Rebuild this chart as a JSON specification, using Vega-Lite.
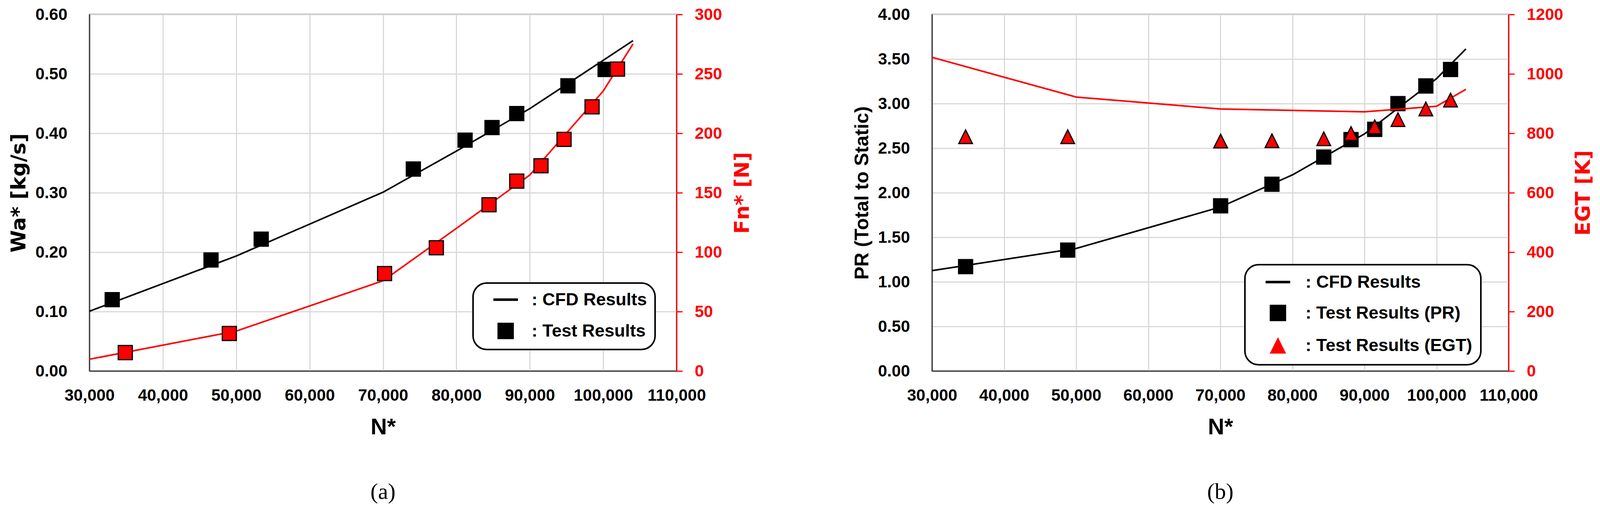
{
  "$schema": "https://vega.github.io/schema/vega-lite/v6.json",
  "background": "white",
  "padding": {"left": 20, "top": 14, "right": 5, "bottom": 5},
  "datasets": {
    "waCfd": [
      {"N": 30000, "v": 0.1006}, {"N": 50000, "v": 0.1935}, {"N": 70000, "v": 0.3009},
      {"N": 80000, "v": 0.370}, {"N": 90000, "v": 0.4415}, {"N": 100000, "v": 0.5228},
      {"N": 104070, "v": 0.556}
    ],
    "waTest": [
      {"N": 33101, "v": 0.1201, "series": "Test Results"},
      {"N": 46564, "v": 0.1869, "series": "Test Results"},
      {"N": 53404, "v": 0.2219, "series": "Test Results"},
      {"N": 74133, "v": 0.3399, "series": "Test Results"},
      {"N": 81183, "v": 0.3885, "series": "Test Results"},
      {"N": 84854, "v": 0.4097, "series": "Test Results"},
      {"N": 88223, "v": 0.4332, "series": "Test Results"},
      {"N": 95199, "v": 0.4799, "series": "Test Results"},
      {"N": 100265, "v": 0.5075, "series": "Test Results"}
    ],
    "fnCfd": [
      {"N": 30000, "v": 9.9}, {"N": 50000, "v": 33.6}, {"N": 70000, "v": 75.9},
      {"N": 80000, "v": 120}, {"N": 90000, "v": 164.9}, {"N": 100000, "v": 235.5},
      {"N": 104070, "v": 275.2}
    ],
    "fnTest": [
      {"N": 34883, "v": 15.5}, {"N": 49059, "v": 31.6}, {"N": 70213, "v": 82.0},
      {"N": 77266, "v": 103.7}, {"N": 84446, "v": 139.9}, {"N": 88223, "v": 159.8},
      {"N": 91528, "v": 172.7}, {"N": 94668, "v": 194.9}, {"N": 98488, "v": 222.3},
      {"N": 101952, "v": 254.0}
    ],
    "prCfd": [
      {"N": 30000, "v": 1.126}, {"N": 50000, "v": 1.375}, {"N": 70000, "v": 1.839},
      {"N": 80000, "v": 2.2}, {"N": 90000, "v": 2.66}, {"N": 100000, "v": 3.28},
      {"N": 104070, "v": 3.613}
    ],
    "prTest": [
      {"N": 34658, "v": 1.171, "series": "Test Results (PR)"},
      {"N": 48826, "v": 1.356, "series": "Test Results (PR)"},
      {"N": 70043, "v": 1.853, "series": "Test Results (PR)"},
      {"N": 77163, "v": 2.095, "series": "Test Results (PR)"},
      {"N": 84353, "v": 2.400, "series": "Test Results (PR)"},
      {"N": 88136, "v": 2.596, "series": "Test Results (PR)"},
      {"N": 91424, "v": 2.711, "series": "Test Results (PR)"},
      {"N": 94647, "v": 3.000, "series": "Test Results (PR)"},
      {"N": 98516, "v": 3.198, "series": "Test Results (PR)"},
      {"N": 101947, "v": 3.383, "series": "Test Results (PR)"}
    ],
    "egtCfd": [
      {"N": 30000, "v": 1055.7}, {"N": 50000, "v": 922}, {"N": 70000, "v": 882},
      {"N": 90000, "v": 872.4}, {"N": 100000, "v": 891}, {"N": 104070, "v": 948}
    ],
    "egtTest": [
      {"N": 34658, "v": 788.6, "series": "Test Results (EGT)"},
      {"N": 48826, "v": 788.6, "series": "Test Results (EGT)"},
      {"N": 70043, "v": 774, "series": "Test Results (EGT)"},
      {"N": 77163, "v": 775, "series": "Test Results (EGT)"},
      {"N": 84353, "v": 781.6, "series": "Test Results (EGT)"},
      {"N": 88136, "v": 799.3, "series": "Test Results (EGT)"},
      {"N": 91424, "v": 822, "series": "Test Results (EGT)"},
      {"N": 94647, "v": 846, "series": "Test Results (EGT)"},
      {"N": 98516, "v": 882, "series": "Test Results (EGT)"},
      {"N": 101947, "v": 912, "series": "Test Results (EGT)"}
    ]
  },
  "hconcat": [
    {
      "width": 1503,
      "height": 912,
      "title": {"text": "(a)", "orient": "bottom", "offset": 108},
      "encoding": {
        "x": {
          "field": "N", "type": "quantitative",
          "scale": {"domain": [30000, 110000], "nice": false, "zero": false},
          "axis": {"title": "N*", "format": ",d", "values": [30000, 40000, 50000, 60000, 70000, 80000, 90000, 100000, 110000]}
        }
      },
      "layer": [
        {
          "encoding": {
            "y": {
              "field": "v", "type": "quantitative",
              "scale": {"domain": [0, 0.6], "nice": false, "zero": false},
              "axis": {"orient": "left", "title": "Wa* [kg/s]", "format": ".2f", "values": [0, 0.1, 0.2, 0.3, 0.4, 0.5, 0.6], "grid": true}
            }
          },
          "layer": [
            {
              "data": {"name": "waCfd"},
              "mark": {"type": "line", "color": "black", "strokeWidth": 4},
              "encoding": {}
            },
            {
              "data": {"name": "waTest"},
              "mark": {"type": "point", "filled": true, "opacity": 1, "stroke": "black", "strokeWidth": 3, "size": 1300},
              "encoding": {
                "shape": {
                  "field": "series", "type": "nominal",
                  "scale": {"domain": ["CFD Results", "Test Results"], "range": ["M-1.5,-0.15H1.5V0.15H-1.5Z", "square"]},
                  "legend": {"title": null, "orient": "none", "legendX": 982, "legendY": 687, "labelExpr": "': ' + datum.label", "padding": 20, "rowPadding": 29, "symbolOffset": 41, "labelOffset": 44, "cornerRadius": 35}
                },
                "fill": {
                  "field": "series", "type": "nominal",
                  "scale": {"domain": ["CFD Results", "Test Results"], "range": ["black", "black"]},
                  "legend": {"title": null, "orient": "none", "legendX": 982, "legendY": 687, "labelExpr": "': ' + datum.label", "padding": 20, "rowPadding": 29, "symbolOffset": 41, "labelOffset": 44, "cornerRadius": 35}
                }
              }
            }
          ]
        },
        {
          "encoding": {
            "y": {
              "field": "v", "type": "quantitative",
              "scale": {"domain": [0, 300], "nice": false, "zero": false},
              "axis": {"orient": "right", "title": "Fn* [N]", "format": "d", "values": [0, 50, 100, 150, 200, 250, 300], "grid": false}
            }
          },
          "layer": [
            {
              "data": {"name": "fnCfd"},
              "mark": {"type": "line", "color": "#ff0000", "strokeWidth": 4},
              "encoding": {}
            },
            {
              "data": {"name": "fnTest"},
              "mark": {"type": "point", "shape": "square", "filled": true, "opacity": 1, "fill": "#ff0000", "stroke": "black", "strokeWidth": 3, "size": 1300},
              "encoding": {}
            }
          ]
        }
      ],
      "resolve": {"scale": {"y": "independent"}}
    },
    {
      "width": 1476,
      "height": 912,
      "title": {"text": "(b)", "orient": "bottom", "offset": 108},
      "encoding": {
        "x": {
          "field": "N", "type": "quantitative",
          "scale": {"domain": [30000, 110000], "nice": false, "zero": false},
          "axis": {"title": "N*", "format": ",d", "values": [30000, 40000, 50000, 60000, 70000, 80000, 90000, 100000, 110000]}
        }
      },
      "layer": [
        {
          "encoding": {
            "y": {
              "field": "v", "type": "quantitative",
              "scale": {"domain": [0, 4], "nice": false, "zero": false},
              "axis": {"orient": "left", "title": "PR (Total to Static)", "titleFont": "Liberation Sans", "titleFontSize": 50, "format": ".2f", "values": [0, 0.5, 1, 1.5, 2, 2.5, 3, 3.5, 4], "grid": true}
            }
          },
          "layer": [
            {
              "data": {"name": "prCfd"},
              "mark": {"type": "line", "color": "black", "strokeWidth": 4},
              "encoding": {}
            },
            {
              "data": {"name": "prTest"},
              "mark": {"type": "point", "filled": true, "opacity": 1, "stroke": "black", "strokeWidth": 3, "size": 1300},
              "encoding": {
                "shape": {
                  "field": "series", "type": "nominal",
                  "scale": {"domain": ["CFD Results", "Test Results (PR)", "Test Results (EGT)"], "range": ["M-1.5,-0.15H1.5V0.15H-1.5Z", "square", "M0,-1L1,1L-1,1Z"]},
                  "legend": {"title": null, "orient": "none", "legendX": 801, "legendY": 640, "labelExpr": "': ' + datum.label", "padding": 22, "rowPadding": 28, "symbolOffset": 40, "labelOffset": 48, "cornerRadius": 35}
                },
                "fill": {
                  "field": "series", "type": "nominal",
                  "scale": {"domain": ["CFD Results", "Test Results (PR)", "Test Results (EGT)"], "range": ["black", "black", "#ff0000"]},
                  "legend": {"title": null, "orient": "none", "legendX": 801, "legendY": 640, "labelExpr": "': ' + datum.label", "padding": 22, "rowPadding": 28, "symbolOffset": 40, "labelOffset": 48, "cornerRadius": 35}
                }
              }
            }
          ]
        },
        {
          "encoding": {
            "y": {
              "field": "v", "type": "quantitative",
              "scale": {"domain": [0, 1200], "nice": false, "zero": false},
              "axis": {"orient": "right", "title": "EGT [K]", "format": "d", "values": [0, 200, 400, 600, 800, 1000, 1200], "grid": false}
            }
          },
          "layer": [
            {
              "data": {"name": "egtCfd"},
              "mark": {"type": "line", "color": "#ff0000", "strokeWidth": 4},
              "encoding": {}
            },
            {
              "data": {"name": "egtTest"},
              "mark": {"type": "point", "filled": true, "opacity": 1, "stroke": "black", "strokeWidth": 3, "size": 1225},
              "encoding": {
                "shape": {
                  "field": "series", "type": "nominal",
                  "scale": {"domain": ["CFD Results", "Test Results (PR)", "Test Results (EGT)"], "range": ["M-1.5,-0.15H1.5V0.15H-1.5Z", "square", "M0,-1L1,1L-1,1Z"]},
                  "legend": {"title": null, "orient": "none", "legendX": 801, "legendY": 640, "labelExpr": "': ' + datum.label", "padding": 22, "rowPadding": 28, "symbolOffset": 40, "labelOffset": 48, "cornerRadius": 35}
                },
                "fill": {
                  "field": "series", "type": "nominal",
                  "scale": {"domain": ["CFD Results", "Test Results (PR)", "Test Results (EGT)"], "range": ["black", "black", "#ff0000"]},
                  "legend": {"title": null, "orient": "none", "legendX": 801, "legendY": 640, "labelExpr": "': ' + datum.label", "padding": 22, "rowPadding": 28, "symbolOffset": 40, "labelOffset": 48, "cornerRadius": 35}
                }
              }
            }
          ]
        }
      ],
      "resolve": {"scale": {"y": "independent"}}
    }
  ],
  "spacing": 252,
  "resolve": {
    "scale": {"x": "independent", "shape": "independent", "fill": "independent"},
    "legend": {"shape": "independent", "fill": "independent"}
  },
  "config": {
    "view": {"stroke": "#404040", "strokeWidth": 3},
    "title": {"font": "Liberation Serif", "fontSize": 58, "fontWeight": "normal", "color": "black", "anchor": "middle", "frame": "group"},
    "axis": {
      "labelFont": "Liberation Sans", "labelFontSize": 42, "labelFontWeight": "bold", "labelColor": "black",
      "titleFont": "DejaVu Sans", "titleFontSize": 52, "titleFontWeight": "bold", "titleColor": "black",
      "gridColor": "#d9d9d9", "gridWidth": 3,
      "domainColor": "#404040", "domainWidth": 3,
      "ticks": false, "labelOverlap": false, "labelFlush": false, "labelBound": false
    },
    "axisX": {"labelPadding": 42, "titlePadding": 32, "titleFont": "Liberation Sans", "titleFontSize": 58},
    "axisLeft": {"labelPadding": 57, "titlePadding": 15},
    "axisRight": {
      "ticks": true, "tickSize": 15, "tickWidth": 3, "tickColor": "#ff0000",
      "domainColor": "#ff0000", "labelColor": "#ff0000", "titleColor": "#ff0000",
      "labelPadding": 31, "titlePadding": 27, "titleAngle": 270, "titleBaseline": "top", "grid": false
    },
    "legend": {
      "strokeColor": "black", "strokeWidth": 4, "fillColor": "white",
      "symbolSize": 1764, "symbolStrokeColor": "black", "symbolStrokeWidth": 3,
      "labelFont": "Liberation Sans", "labelFontSize": 45, "labelFontWeight": "bold", "labelColor": "black", "labelLimit": 1000
    }
  }
}
